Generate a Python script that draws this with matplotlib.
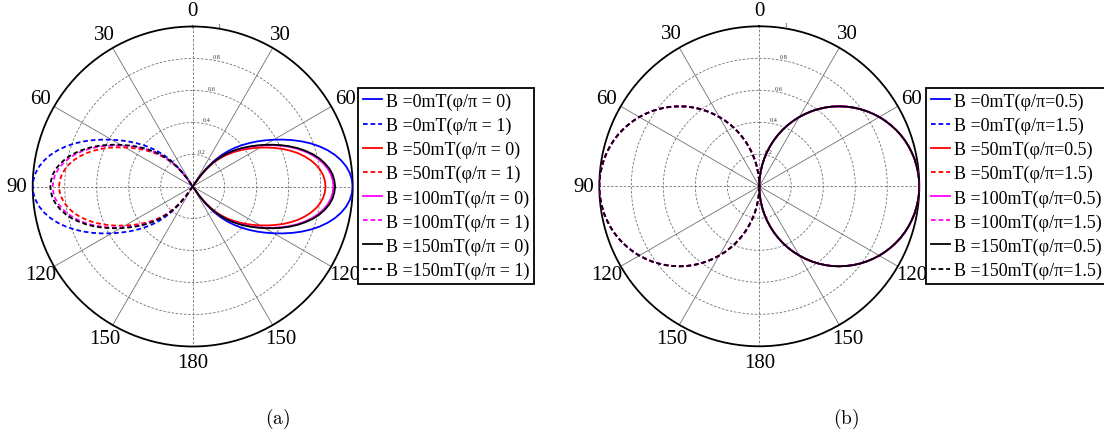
import numpy as np
import matplotlib
matplotlib.use("Agg")
import matplotlib.pyplot as plt

plt.rcParams['font.family'] = ['Liberation Serif', 'DejaVu Serif']
plt.rcParams['mathtext.fontset'] = 'cm'

# ---------------- data ----------------
# (a) lobe half-profile: angle measured from the 90-degree axis (deg), radius
phi_a = [0, 2.5, 5, 7.5, 10, 12.5, 15, 17.5, 20, 22.5, 25, 27.5, 30,
         32.5, 35, 37.5, 40, 42.5, 45, 47.5, 50, 52.5, 55, 57.5]
r_b0_phi0 = [1.000, 0.996, 0.985, 0.967, 0.942, 0.911, 0.874, 0.832, 0.786, 0.737, 0.686, 0.635,
             0.585, 0.537, 0.491, 0.446, 0.402, 0.358, 0.313, 0.265, 0.212, 0.150, 0.078, 0.0]
r_b0_phi1 = [1.000, 0.996, 0.985, 0.967, 0.942, 0.911, 0.874, 0.832, 0.786, 0.737, 0.686, 0.635,
             0.585, 0.537, 0.491, 0.446, 0.402, 0.358, 0.313, 0.265, 0.212, 0.150, 0.078, 0.0]
r_b50_phi0 = [0.830, 0.827, 0.818, 0.803, 0.782, 0.756, 0.725, 0.691, 0.652, 0.612, 0.569, 0.527,
              0.486, 0.446, 0.408, 0.370, 0.334, 0.297, 0.260, 0.220, 0.176, 0.125, 0.065, 0.0]
r_b50_phi1 = [0.835, 0.832, 0.822, 0.807, 0.787, 0.761, 0.730, 0.695, 0.656, 0.615, 0.573, 0.530,
              0.488, 0.448, 0.410, 0.372, 0.336, 0.299, 0.261, 0.221, 0.177, 0.125, 0.065, 0.0]
r_b100_phi0 = [0.880, 0.876, 0.867, 0.851, 0.829, 0.802, 0.769, 0.732, 0.692, 0.649, 0.604, 0.559,
               0.515, 0.473, 0.432, 0.392, 0.354, 0.315, 0.275, 0.233, 0.187, 0.132, 0.069, 0.0]
r_b100_phi1 = [0.875, 0.872, 0.862, 0.846, 0.824, 0.797, 0.765, 0.728, 0.688, 0.645, 0.600, 0.556,
               0.512, 0.470, 0.430, 0.390, 0.352, 0.313, 0.274, 0.232, 0.186, 0.131, 0.068, 0.0]
r_b150_phi0 = [0.890, 0.886, 0.877, 0.861, 0.838, 0.811, 0.778, 0.740, 0.700, 0.656, 0.611, 0.565,
               0.521, 0.478, 0.437, 0.397, 0.358, 0.319, 0.279, 0.236, 0.189, 0.134, 0.069, 0.0]
r_b150_phi1 = [0.890, 0.886, 0.877, 0.861, 0.838, 0.811, 0.778, 0.740, 0.700, 0.656, 0.611, 0.565,
               0.521, 0.478, 0.437, 0.397, 0.358, 0.319, 0.279, 0.236, 0.189, 0.134, 0.069, 0.0]

# (b) half-circle profile: polar angle from 0 (deg), radius (same for all fields)
theta_b = [0, 2.5, 5, 7.5, 10, 12.5, 15, 17.5, 20, 22.5, 25, 27.5, 30, 32.5, 35, 37.5, 40, 42.5,
           45, 47.5, 50, 52.5, 55, 57.5, 60, 62.5, 65, 67.5, 70, 72.5, 75, 77.5, 80, 82.5, 85, 87.5, 90]
r_b = [0.0, 0.044, 0.087, 0.131, 0.174, 0.216, 0.259, 0.301, 0.342, 0.383, 0.423, 0.462,
       0.500, 0.537, 0.574, 0.609, 0.643, 0.676, 0.707, 0.737, 0.766, 0.793, 0.819, 0.843,
       0.866, 0.887, 0.906, 0.924, 0.940, 0.954, 0.966, 0.976, 0.985, 0.991, 0.996, 0.999, 1.0]

fields = ['0', '50', '100', '150']
colors = ['#0000ff', '#ff0000', '#ff00ff', '#000000']
labels_a = [(f'B ={f}mT(φ/π = 0)', f'B ={f}mT(φ/π = 1)') for f in fields]
labels_b = [(f'B ={f}mT(φ/π=0.5)', f'B ={f}mT(φ/π=1.5)') for f in fields]
series_a = [(r_b0_phi0, r_b0_phi1), (r_b50_phi0, r_b50_phi1),
            (r_b100_phi0, r_b100_phi1), (r_b150_phi0, r_b150_phi1)]

angle_labels = ['0', '30', '60', '90', '120', '150', '180', '150', '120', '90', '60', '30']
rgrid = [0.2, 0.4, 0.6, 0.8, 1.0]
rgrid_labels = ['0.2', '0.4', '0.6', '0.8', '1']

# ---------------- figure ----------------
W, H = 1104, 439
fig = plt.figure(figsize=(W / 100, H / 100), dpi=100)
fig.patch.set_facecolor('white')

DASH = (0, (2.6, 1.6))
LW = 1.3


def setup_polar(ax):
    ax.set_theta_zero_location('N')
    ax.set_theta_direction(-1)
    ax.set_ylim(0, 1)
    ax.grid(False)
    ax.set_xticks([])
    ax.set_yticks([])
    ax.spines['polar'].set_linewidth(1.3)
    ax.spines['polar'].set_color('black')
    tt = np.linspace(0, 2 * np.pi, 400)
    for rv in rgrid[:-1]:
        ax.plot(tt, np.full_like(tt, rv), color='#707070', lw=0.6,
                ls=(0, (3, 2)), zorder=1)
    for k in range(12):
        ang = np.deg2rad(30 * k)
        ls = (0, (3, 2)) if k % 3 == 0 else '-'
        ax.plot([ang, ang], [0, 1], color='#707070', lw=0.6, ls=ls, zorder=1)
    for k, lab in enumerate(angle_labels):
        ax.text(np.deg2rad(30 * k), 1.1, lab, ha='center', va='center',
                fontsize=15, clip_on=False, zorder=1)
    for rv, lab in zip(rgrid, rgrid_labels):
        ax.text(np.deg2rad(9), rv + 0.005, lab, ha='left', va='bottom',
                fontsize=4.5, color='#333333', zorder=1)


axw, axh = 320 / W, 320 / H
ax1 = fig.add_axes([32.7 / W, 1 - 347.5 / H, axw, axh], projection='polar')
ax2 = fig.add_axes([599.3 / W, 1 - 347.3 / H, axw, axh], projection='polar')
setup_polar(ax1)
setup_polar(ax2)

# panel (a)
phi = np.array(phi_a, dtype=float)
phi_full = np.concatenate([-phi[::-1], phi[1:]])
handles_a = []
for (r0, r1), col, (l0, l1) in zip(series_a, colors, labels_a):
    rf0 = np.concatenate([np.array(r0)[::-1], np.array(r0)[1:]])
    rf1 = np.concatenate([np.array(r1)[::-1], np.array(r1)[1:]])
    h0, = ax1.plot(np.deg2rad(90 + phi_full), rf0, color=col, lw=LW, label=l0, zorder=3)
    h1, = ax1.plot(np.deg2rad(270 + phi_full), rf1, color=col, lw=LW, ls=DASH, label=l1, zorder=3)
    handles_a += [h0, h1]

# panel (b)
tb = np.array(theta_b, dtype=float)
tb_full = np.concatenate([tb, 180 - tb[::-1][1:]])
rb_full = np.concatenate([np.array(r_b), np.array(r_b)[::-1][1:]])
handles_b = []
for col, (l0, l1) in zip(colors, labels_b):
    h0, = ax2.plot(np.deg2rad(tb_full), rb_full, color=col, lw=LW, label=l0, zorder=3)
    h1, = ax2.plot(np.deg2rad(180 + tb_full), rb_full, color=col, lw=LW, ls=DASH, label=l1, zorder=3)
    handles_b += [h0, h1]

leg_kw = dict(loc='upper left', borderaxespad=0, fontsize=13, frameon=True,
              fancybox=False, edgecolor='black', facecolor='white', framealpha=1,
              handlelength=1.1, handletextpad=0.2, labelspacing=0.38,
              borderpad=0.25)
lg1 = fig.legend(handles=handles_a, bbox_to_anchor=(358 / W, 1 - 89 / H), **leg_kw)
lg2 = fig.legend(handles=handles_b, bbox_to_anchor=(926 / W, 1 - 89 / H), **leg_kw)
for lg in (lg1, lg2):
    lg.get_frame().set_linewidth(1.3)

fig.text(278 / W, 1 - 419 / H, r'$\mathrm{(a)}$', ha='center', va='center', fontsize=14)
fig.text(846 / W, 1 - 419 / H, r'$\mathrm{(b)}$', ha='center', va='center', fontsize=14)

fig.savefig('out.png', dpi=100, facecolor='white')
